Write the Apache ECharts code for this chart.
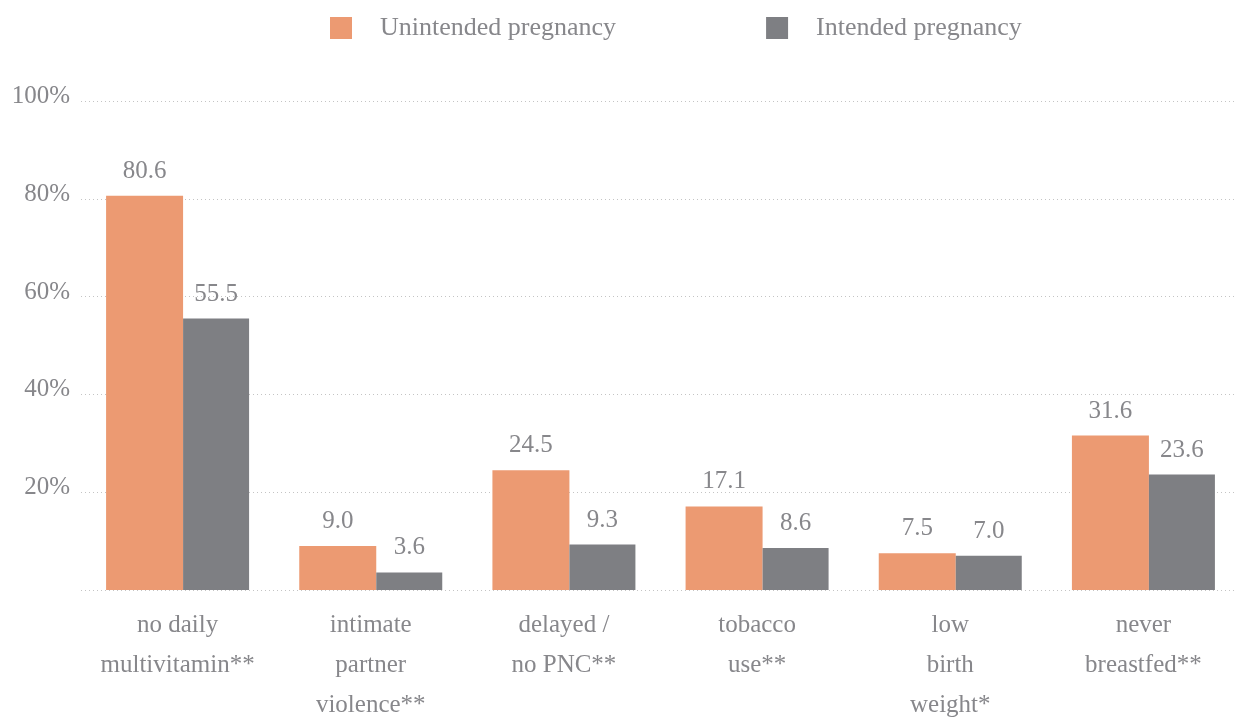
<!DOCTYPE html>
<html>
<head>
<meta charset="utf-8">
<script src="https://cdn.jsdelivr.net/npm/echarts@6/dist/echarts.min.js"></script>
<style>
  html, body { margin: 0; padding: 0; background: #fff; }
  #chart { width: 1236px; height: 717px; }
</style>
</head>
<body>
<div id="chart"></div>
<script>
// categories along the x axis
const categories = [
  'no daily\nmultivitamin**',
  'intimate\npartner\nviolence**',
  'delayed /\nno PNC**',
  'tobacco\nuse**',
  'low\nbirth\nweight*',
  'never\nbreastfed**'
];
// percent values (labels above bars)
const unintended = [80.6, 9.0, 24.5, 17.1, 7.5, 31.6];
const intended = [55.5, 3.6, 9.3, 8.6, 7.0, 23.6];
const yTicks = [0, 20, 40, 60, 80, 100];

const textColor = '#87878b';
const font = 'Liberation Serif';

const myChart = echarts.init(document.getElementById('chart'));

const option = {
  textStyle: { fontFamily: font },
  legend: {
    top: 10,
    left: 325,
    icon: 'rect',
    itemWidth: 22,
    itemHeight: 22,
    itemGap: 150,
    textStyle: {
      color: textColor,
      fontSize: 26,
      fontFamily: font,
      padding: [0, 0, 4, 23]
    },
    data: ['Unintended pregnancy', 'Intended pregnancy']
  },
  grid: {
    top: 101,
    left: 81,
    right: -4,
    bottom: 127,
    outerBoundsMode: 'none'
  },
  xAxis: {
    type: 'category',
    data: categories,
    axisLine: { show: false },
    axisTick: { show: false },
    axisLabel: {
      interval: 0,
      color: textColor,
      fontSize: 25,
      fontFamily: font,
      lineHeight: 40,
      margin: 15
    }
  },
  yAxis: {
    type: 'value',
    min: yTicks[0],
    max: yTicks[yTicks.length - 1],
    interval: 20,
    axisLine: { show: false },
    axisTick: { show: false },
    axisLabel: {
      color: textColor,
      fontSize: 25,
      fontFamily: font,
      margin: 11,
      verticalAlign: 'bottom',
      padding: [0, 0, -8, 0],
      formatter: v => (v === 0 ? '' : v + '%')
    },
    splitLine: {
      show: true,
      lineStyle: {
        color: '#c4c4c4',
        type: [1, 3],
        width: 1
      }
    }
  },
  series: [
    {
      name: 'Unintended pregnancy',
      type: 'bar',
      data: unintended,
      barWidth: 77,
      barGap: '0%',
      itemStyle: { color: '#ec9a72' },
      label: {
        show: true,
        position: 'top',
        distance: 12,
        color: textColor,
        fontSize: 25,
        fontFamily: font,
        formatter: p => p.value.toFixed(1)
      }
    },
    {
      name: 'Intended pregnancy',
      type: 'bar',
      data: intended,
      barWidth: 66,
      barGap: '0%',
      itemStyle: { color: '#7e7f83' },
      label: {
        show: true,
        position: 'top',
        distance: 12,
        color: textColor,
        fontSize: 25,
        fontFamily: font,
        formatter: p => p.value.toFixed(1)
      }
    }
  ]
};

myChart.setOption(option);
</script>
</body>
</html>
